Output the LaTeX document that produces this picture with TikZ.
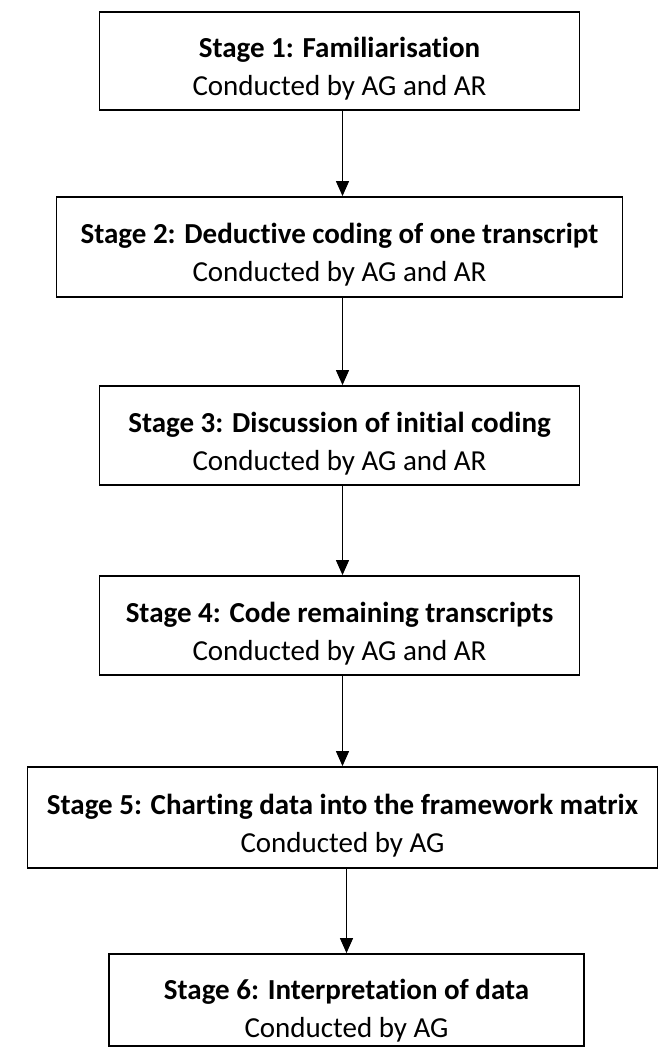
\documentclass[tikz,border=0pt]{standalone}
\usepackage{fontspec}
\setmainfont{Carlito}[Ligatures=NoCommon]
\usetikzlibrary{arrows.meta}
\tikzset{
  stagebox/.style={draw,line width=1.8pt,minimum height=98pt,inner sep=0pt},
  stagetxt/.style={align=center,font=\fontsize{29pt}{38pt}\selectfont,inner sep=0pt},
  arr/.style={-{Triangle[length=15pt,width=13pt]},line width=1.2pt},
}
\begin{document}
\begin{tikzpicture}[x=1pt,y=-1pt]
\useasboundingbox (0,0) rectangle (660,1048);
% the six stages, top to bottom
\node[stagebox,minimum width=480pt] (s1) at (339.5,61) {};
\node[stagebox,minimum width=566pt,minimum height=100pt] (s2) at (339.5,247) {};
\node[stagebox,minimum width=480pt,minimum height=99pt] (s3) at (339.5,435.5) {};
\node[stagebox,minimum width=480pt,minimum height=99pt] (s4) at (339.5,625.5) {};
\node[stagebox,minimum width=630pt,minimum height=101pt] (s5) at (342.5,817.5) {};
\node[stagebox,minimum width=475pt,minimum height=92pt] (s6) at (346.5,1000) {};
% text sits a bit below the middle of each box
\node[stagetxt] (t1) at ([yshift=-8pt]s1.center) {\textbf{Stage 1: Familiarisation}\\Conducted by AG and AR};
\node[stagetxt] (t2) at ([yshift=-8pt]s2.center) {\textbf{Stage 2: Deductive coding of one transcript}\\Conducted by AG and AR};
\node[stagetxt] (t3) at ([yshift=-8pt]s3.center) {\textbf{Stage 3: Discussion of initial coding}\\Conducted by AG and AR};
\node[stagetxt] (t4) at ([yshift=-8pt]s4.center) {\textbf{Stage 4: Code remaining transcripts}\\Conducted by AG and AR};
\node[stagetxt] (t5) at ([yshift=-8pt]s5.center) {\textbf{Stage 5: Charting data into the framework matrix}\\Conducted by AG};
\node[stagetxt] (t6) at ([yshift=-11pt]s6.center) {\textbf{Stage 6: Interpretation of data}\\Conducted by AG};
% arrows drop straight down into the next box
\foreach \a/\b in {s1/s2,s2/s3,s3/s4,s4/s5}
  \draw[arr] ([xshift=3pt]\a.south) -- ([xshift=3pt]\a.south |- \b.north);
\draw[arr] (s6 |- s5.south) -- (s6.north);
\end{tikzpicture}
\end{document}
